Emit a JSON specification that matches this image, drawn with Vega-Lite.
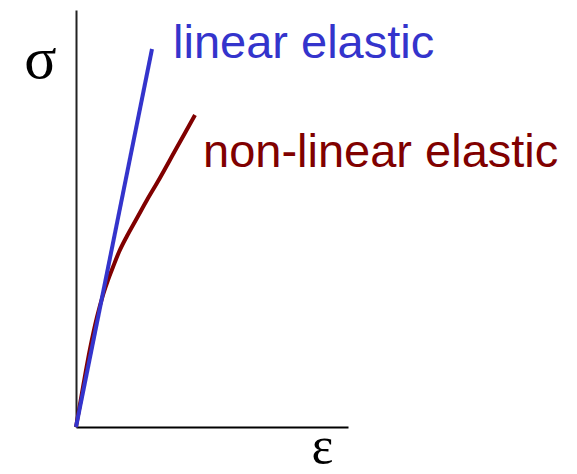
{
  "$schema": "https://vega.github.io/schema/vega-lite/v6.json",
  "width": 272,
  "height": 417,
  "autosize": {"type": "none"},
  "padding": {"left": 76, "top": 10, "right": 229, "bottom": 47},
  "background": "white",
  "config": {"view": {"stroke": null}},
  "datasets": {
    "curves": [
      {"series": "linear", "e": 0, "s": 0},
      {"series": "linear", "e": 76, "s": 378},
      {"series": "nonlinear", "e": 0, "s": 0},
      {"series": "nonlinear", "e": 7, "s": 40},
      {"series": "nonlinear", "e": 14, "s": 78},
      {"series": "nonlinear", "e": 21, "s": 110},
      {"series": "nonlinear", "e": 27, "s": 132},
      {"series": "nonlinear", "e": 32, "s": 147},
      {"series": "nonlinear", "e": 37, "s": 160},
      {"series": "nonlinear", "e": 43, "s": 175},
      {"series": "nonlinear", "e": 51, "s": 191},
      {"series": "nonlinear", "e": 61, "s": 209},
      {"series": "nonlinear", "e": 71, "s": 227},
      {"series": "nonlinear", "e": 81, "s": 244},
      {"series": "nonlinear", "e": 100, "s": 278},
      {"series": "nonlinear", "e": 119, "s": 312}
    ],
    "labels": [
      {"series": "linear", "label": "linear elastic", "e": 97, "s": 369},
      {"series": "nonlinear", "label": "non-linear elastic", "e": 127, "s": 260}
    ]
  },
  "encoding": {
    "x": {"field": "e", "type": "quantitative", "scale": {"domain": [0, 272], "nice": false, "zero": false},
      "axis": {"title": "ε", "titleFont": "Liberation Serif", "titleFontSize": 52, "titleFontWeight": "normal", "titleColor": "black",
        "titleX": 246, "titleY": 35, "titleBaseline": "alphabetic", "titleAnchor": null, "titleAlign": "center",
        "labels": false, "ticks": false, "grid": false, "domainColor": "black", "domainWidth": 2}},
    "y": {"field": "s", "type": "quantitative", "scale": {"domain": [0, 417], "nice": false, "zero": false},
      "axis": {"title": "σ", "titleFont": "Liberation Serif", "titleFontSize": 60, "titleFontWeight": "normal", "titleColor": "black",
        "titleAngle": 0, "titleX": -36, "titleY": 67, "titleBaseline": "alphabetic", "titleAlign": "center",
        "labels": false, "ticks": false, "grid": false, "domainColor": "#222222", "domainWidth": 2}},
    "color": {"field": "series", "type": "nominal", "scale": {"domain": ["linear", "nonlinear"], "range": ["#3434CC", "#800000"]}, "legend": null}
  },
  "layer": [
    {
      "data": {"name": "curves"},
      "transform": [{"filter": "datum.series === 'nonlinear'"}],
      "mark": {"type": "line", "strokeWidth": 4, "strokeCap": "butt", "interpolate": "monotone", "clip": false}
    },
    {
      "data": {"name": "curves"},
      "transform": [{"filter": "datum.series === 'linear'"}],
      "mark": {"type": "line", "strokeWidth": 4, "strokeCap": "butt", "clip": false}
    },
    {
      "data": {"name": "labels"},
      "mark": {"type": "text", "font": "Liberation Sans", "fontSize": 47, "align": "left", "baseline": "alphabetic", "clip": false},
      "encoding": {
        "text": {"field": "label"}
      }
    }
  ]
}
